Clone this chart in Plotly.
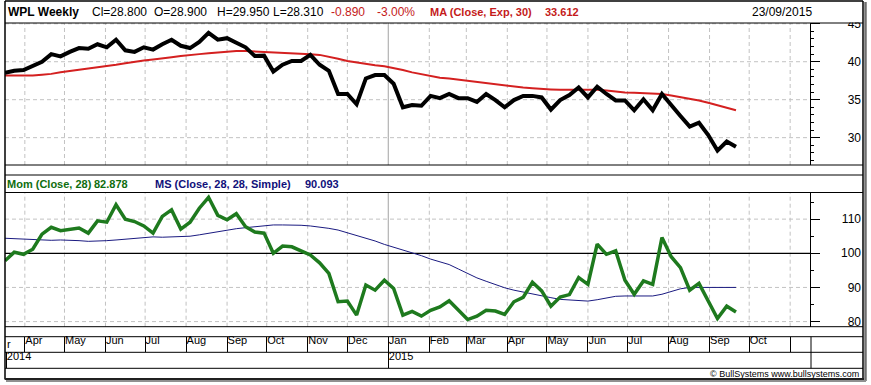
import pandas as pd
import plotly.graph_objects as go

W, H = 871, 385

dates = pd.date_range("2014-03-17", periods=80, freq="7D")

close = [38.55, 38.8, 38.9, 39.4, 40.0, 41.0, 40.7, 41.3, 41.8, 41.7,
         42.3, 41.9, 42.9, 41.5, 41.3, 41.9, 41.6, 42.3, 42.9, 42.1,
         41.8, 42.6, 43.8, 42.9, 43.1, 42.5, 41.9, 40.75, 40.8, 38.7,
         39.6, 40.1, 40.1, 40.9, 39.6, 38.8, 35.75, 35.75, 34.4, 37.8,
         38.25, 38.25, 37.1, 34.0, 34.3, 34.2, 35.5, 35.2, 35.75, 35.2,
         35.2, 34.7, 35.75, 34.95, 34.0, 34.95, 35.5, 35.5, 35.3, 33.7,
         34.95, 35.6, 36.6, 35.3, 36.7, 35.75, 34.9, 34.9, 33.6, 35.05,
         33.6, 35.75, 34.2, 32.85, 31.45, 31.97, 30.35, 28.3, 29.5, 28.8]

ma_exp30 = [38.2, 38.2, 38.2, 38.2, 38.3, 38.4, 38.6, 38.8, 38.95, 39.1,
            39.3, 39.45, 39.6, 39.8, 40.0, 40.15, 40.3, 40.5, 40.6, 40.75,
            40.9, 41.0, 41.1, 41.2, 41.3, 41.4, 41.4, 41.35, 41.25, 41.2,
            41.15, 41.1, 41.05, 41.0, 40.9, 40.7, 40.4, 40.1, 39.9, 39.7,
            39.55, 39.4, 39.2, 38.9, 38.6, 38.35, 38.1, 37.9, 37.8, 37.65,
            37.5, 37.35, 37.2, 37.0, 36.85, 36.7, 36.6, 36.5, 36.4, 36.35,
            36.3, 36.3, 36.3, 36.3, 36.3, 36.2, 36.05, 35.95, 35.9, 35.85,
            35.8, 35.75, 35.55, 35.35, 35.1, 34.9, 34.6, 34.25, 33.9, 33.6]

mom = [97.8, 100.3, 99.7, 101.2, 105.6, 107.6, 106.6, 107.1, 107.4, 105.9,
       109.5, 109.1, 114.2, 110.0, 109.3, 108.0, 105.9, 110.8, 112.7, 107.1,
       109.1, 113.2, 116.4, 111.1, 109.8, 111.6, 107.8, 106.2, 105.9, 100.0,
       102.1, 101.9, 100.7, 99.5, 97.2, 94.1, 85.8, 86.0, 81.9, 90.7,
       89.2, 92.1, 89.7, 81.9, 83.0, 81.6, 83.3, 84.3, 86.1, 83.5,
       80.6, 81.6, 83.3, 83.1, 82.1, 85.8, 87.1, 91.5, 89.0, 84.5,
       87.2, 87.9, 92.9, 90.9, 102.7, 99.7, 100.7, 92.1, 88.0, 91.9,
       90.9, 104.6, 99.0, 95.8, 89.2, 91.2, 86.1, 80.9, 84.5, 82.8]

ms = [104.4, 104.3, 104.1, 103.9, 103.8, 103.8, 103.9, 103.9, 103.7, 103.5,
      103.5, 103.7, 103.9, 104.1, 104.4, 104.7, 104.8, 104.7, 104.8, 104.9,
      105.0, 105.4, 105.9, 106.4, 106.9, 107.2, 107.5, 107.8, 108.1, 108.3,
      108.3, 108.3, 108.2, 108.0, 107.7, 107.3, 106.8, 106.0, 105.3, 104.6,
      103.6, 102.6, 101.8, 101.0, 100.3, 99.3, 98.3, 97.4, 96.7, 95.4,
      94.1, 92.8, 91.8, 90.8, 89.9, 89.2, 88.6, 88.2, 87.6, 87.0,
      86.5, 86.3, 86.1, 86.0, 86.4, 86.9, 87.4, 87.5, 87.5, 87.5,
      87.5, 88.0, 88.8, 89.6, 90.0, 90.0, 90.0, 90.0, 90.0, 90.0]

x_range = ["2014-03-17", "2015-11-16"]
upper_range = [26.4, 45.1]
lower_range = [78.5, 117.8]
upper_grid_levels = [30, 35, 40, 45]
lower_grid_levels = [80, 90, 110]
mom_reference = 100
month_starts = pd.date_range("2014-04-01", "2015-11-01", freq="MS")
year_ticks = ["2014-03-18", "2015-01-01"]
year_text = ["2014", "2015"]
year_boundary = pd.Timestamp("2015-01-01")


def px(x):
    return x / W


def py(y):
    return 1 - y / H


FONT = "Liberation Sans, Arial, sans-serif"
GRID = "#c2c2c2"
GRID_DASH = "4px,3px"
RED = "#c41a1a"
GREEN = "#1e7a1e"
NAVY = "#1a1a80"

fig = go.Figure()
fig.add_trace(go.Scatter(x=x_range, y=[mom_reference] * 2, mode="lines",
                         line=dict(color="black", width=1.2), xaxis="x2", yaxis="y2",
                         hoverinfo="skip"))
fig.add_trace(go.Scatter(x=dates, y=ma_exp30, mode="lines", line=dict(color="#d42020", width=2),
                         xaxis="x", yaxis="y", hoverinfo="skip"))
fig.add_trace(go.Scatter(x=dates, y=close, mode="lines", line=dict(color="black", width=4),
                         xaxis="x", yaxis="y", hoverinfo="skip"))
fig.add_trace(go.Scatter(x=dates, y=ms, mode="lines", line=dict(color=NAVY, width=1),
                         xaxis="x2", yaxis="y2", hoverinfo="skip"))
fig.add_trace(go.Scatter(x=dates, y=mom, mode="lines", line=dict(color=GREEN, width=3.5),
                         xaxis="x2", yaxis="y2", hoverinfo="skip"))
# empty traces that create the label-only axes (no marks drawn)
for xa, ya in [("x3", "y3"), ("x4", "y4"), ("x", "y5"), ("x2", "y6")]:
    fig.add_trace(go.Scatter(x=dates, y=[None] * len(dates), mode="lines", xaxis=xa, yaxis=ya,
                             hoverinfo="skip"))

xdom = [px(5), px(810)]
common_x = dict(type="date", range=x_range, domain=xdom, showticklabels=False,
                ticks="", showgrid=False, zeroline=False, showline=False)
label_x = dict(type="date", range=x_range, domain=xdom, ticks="inside", tickcolor="black",
               tickwidth=1, ticklabelposition="inside right",
               tickfont=dict(family=FONT, size=11, color="black"),
               showgrid=False, showline=False, zeroline=False)
hidden_y = dict(visible=False, range=[0, 1], showgrid=False, zeroline=False)

yfont = dict(family=FONT, size=12, color="black")
frame_y = dict(side="right", tick0=0, ticks="outside", ticklen=9, tickcolor="black", tickwidth=1,
               showline=True, linecolor="black", linewidth=1, showticklabels=False,
               showgrid=False, zeroline=False)
label_y = dict(side="left", anchor="free", position=px(861), ticks="", showline=False,
               showgrid=False, zeroline=False, tickfont=yfont, tick0=0)

fig.update_layout(
    width=W, height=H,
    margin=dict(l=0, r=0, t=0, b=0, autoexpand=False),
    paper_bgcolor="white", plot_bgcolor="white",
    showlegend=False,
    xaxis=dict(anchor="y", **common_x),
    xaxis2=dict(anchor="y2", matches="x", **common_x),
    yaxis=dict(domain=[py(165), py(23)], range=upper_range, anchor="x", dtick=5,
               minor=dict(ticks="outside", ticklen=3, dtick=1, tickcolor="black", showgrid=False),
               **frame_y),
    yaxis2=dict(domain=[py(326.7), py(192.5)], range=lower_range, anchor="x2", dtick=10,
                minor=dict(ticks="outside", ticklen=3, dtick=5, tickcolor="black", showgrid=False),
                **frame_y),
    yaxis5=dict(overlaying="y", range=upper_range, dtick=5, **label_y),
    yaxis6=dict(overlaying="y2", range=lower_range, dtick=10, **label_y),
    xaxis3=dict(anchor="y3", dtick="M1", tick0="2014-04-01", tickformat="%b", ticklen=15.6,
                **label_x),
    yaxis3=dict(domain=[py(352.3), py(336.7)], anchor="x3", **hidden_y),
    xaxis4=dict(anchor="y4", tickmode="array", tickvals=year_ticks, ticktext=year_text,
                ticklen=16, **label_x),
    yaxis4=dict(domain=[py(368.3), py(352.3)], anchor="x4", **hidden_y),
)

shapes = []

# grid: month verticals (solid at the year boundary) and value-level horizontals
for xr, yr in [("x", "y domain"), ("x2", "y2 domain")]:
    for m in month_starts:
        solid = (m == year_boundary)
        shapes.append(dict(type="line", xref=xr, yref=yr, x0=m, x1=m, y0=0, y1=1,
                           line=dict(color="#b8b8b8" if solid else GRID, width=1.3 if solid else 1,
                                     dash="solid" if solid else GRID_DASH),
                           layer="below"))
for yr, levels in [("y", upper_grid_levels), ("y2", lower_grid_levels)]:
    xr = "x domain" if yr == "y" else "x2 domain"
    for v in levels:
        shapes.append(dict(type="line", xref=xr, yref=yr, x0=0, x1=1, y0=v, y1=v,
                           line=dict(color=GRID, width=1, dash=GRID_DASH), layer="below"))


def hline(y, x0=5, x1=863, w=1, c="black"):
    shapes.append(dict(type="line", xref="paper", yref="paper", x0=px(x0), x1=px(x1),
                       y0=py(y), y1=py(y), line=dict(color=c, width=w), layer="above"))


def vline(x, y0, y1, w=1, c="black"):
    shapes.append(dict(type="line", xref="paper", yref="paper", x0=px(x), x1=px(x),
                       y0=py(y0), y1=py(y1), line=dict(color=c, width=w), layer="above"))


# hide top half of clipped "45" label
shapes.append(dict(type="rect", xref="paper", yref="paper", x0=px(812), x1=px(862),
                   y0=py(22.5), y1=py(2), fillcolor="white", line=dict(width=0), layer="above"))

for yy in [23, 165, 175, 192.5, 326.7, 336.7, 352.3, 368.3]:
    hline(yy)
vline(811, 336.7, 368.3)
# outer frame
vline(5, 1, 379.5, w=1.5)
vline(863, 1, 379.5, w=1.5)
hline(1, w=1.5)
hline(379, x0=5, x1=864, w=2, c="#202020")
vline(865.5, 2, 381, w=2.5, c="#707070")
hline(381, x0=6, x1=866, w=2, c="#909090")

fig.update_layout(shapes=shapes)

ann = []


def text(t, x, y, color="black", bold=False, size=12, anchor="left"):
    ann.append(dict(text=("<b>%s</b>" % t) if bold else t, x=px(x), y=py(y), xref="paper",
                    yref="paper", xanchor=anchor, yanchor="middle", showarrow=False,
                    font=dict(family=FONT, size=size, color=color)))


text("WPL Weekly", 6, 12.5, bold=True)
text("Cl=28.800", 90, 12.5)
text("O=28.900", 152, 12.5)
text("H=29.950", 215, 12.5)
text("L=28.310", 271, 12.5)
text("-0.890", 329, 12.5, color=RED)
text("-3.00%", 375, 12.5, color=RED)
text("MA (Close, Exp, 30)", 428, 12.5, color=RED, bold=True, size=11)
text("33.612", 543, 12.5, color=RED, bold=True, size=11)
text("23/09/2015", 750, 12.5)
text("Mom (Close, 28)", 5, 184, color="#0f6e0f", bold=True, size=11)
text("82.878", 92, 184, color="#0f6e0f", bold=True, size=11)
text("MS (Close, 28, 28, Simple)", 153, 184, color="#10107a", bold=True, size=11)
text("90.093", 303, 184, color="#10107a", bold=True, size=11)
text("r", 5, 344, size=11)
text("\u00a9 BullSystems www.bullsystems.com", 861, 373.5, size=9, anchor="right")
fig.update_layout(annotations=ann)

fig.write_html("out.html", config={"displayModeBar": False},
               post_script="document.body.style.margin='0px';")
